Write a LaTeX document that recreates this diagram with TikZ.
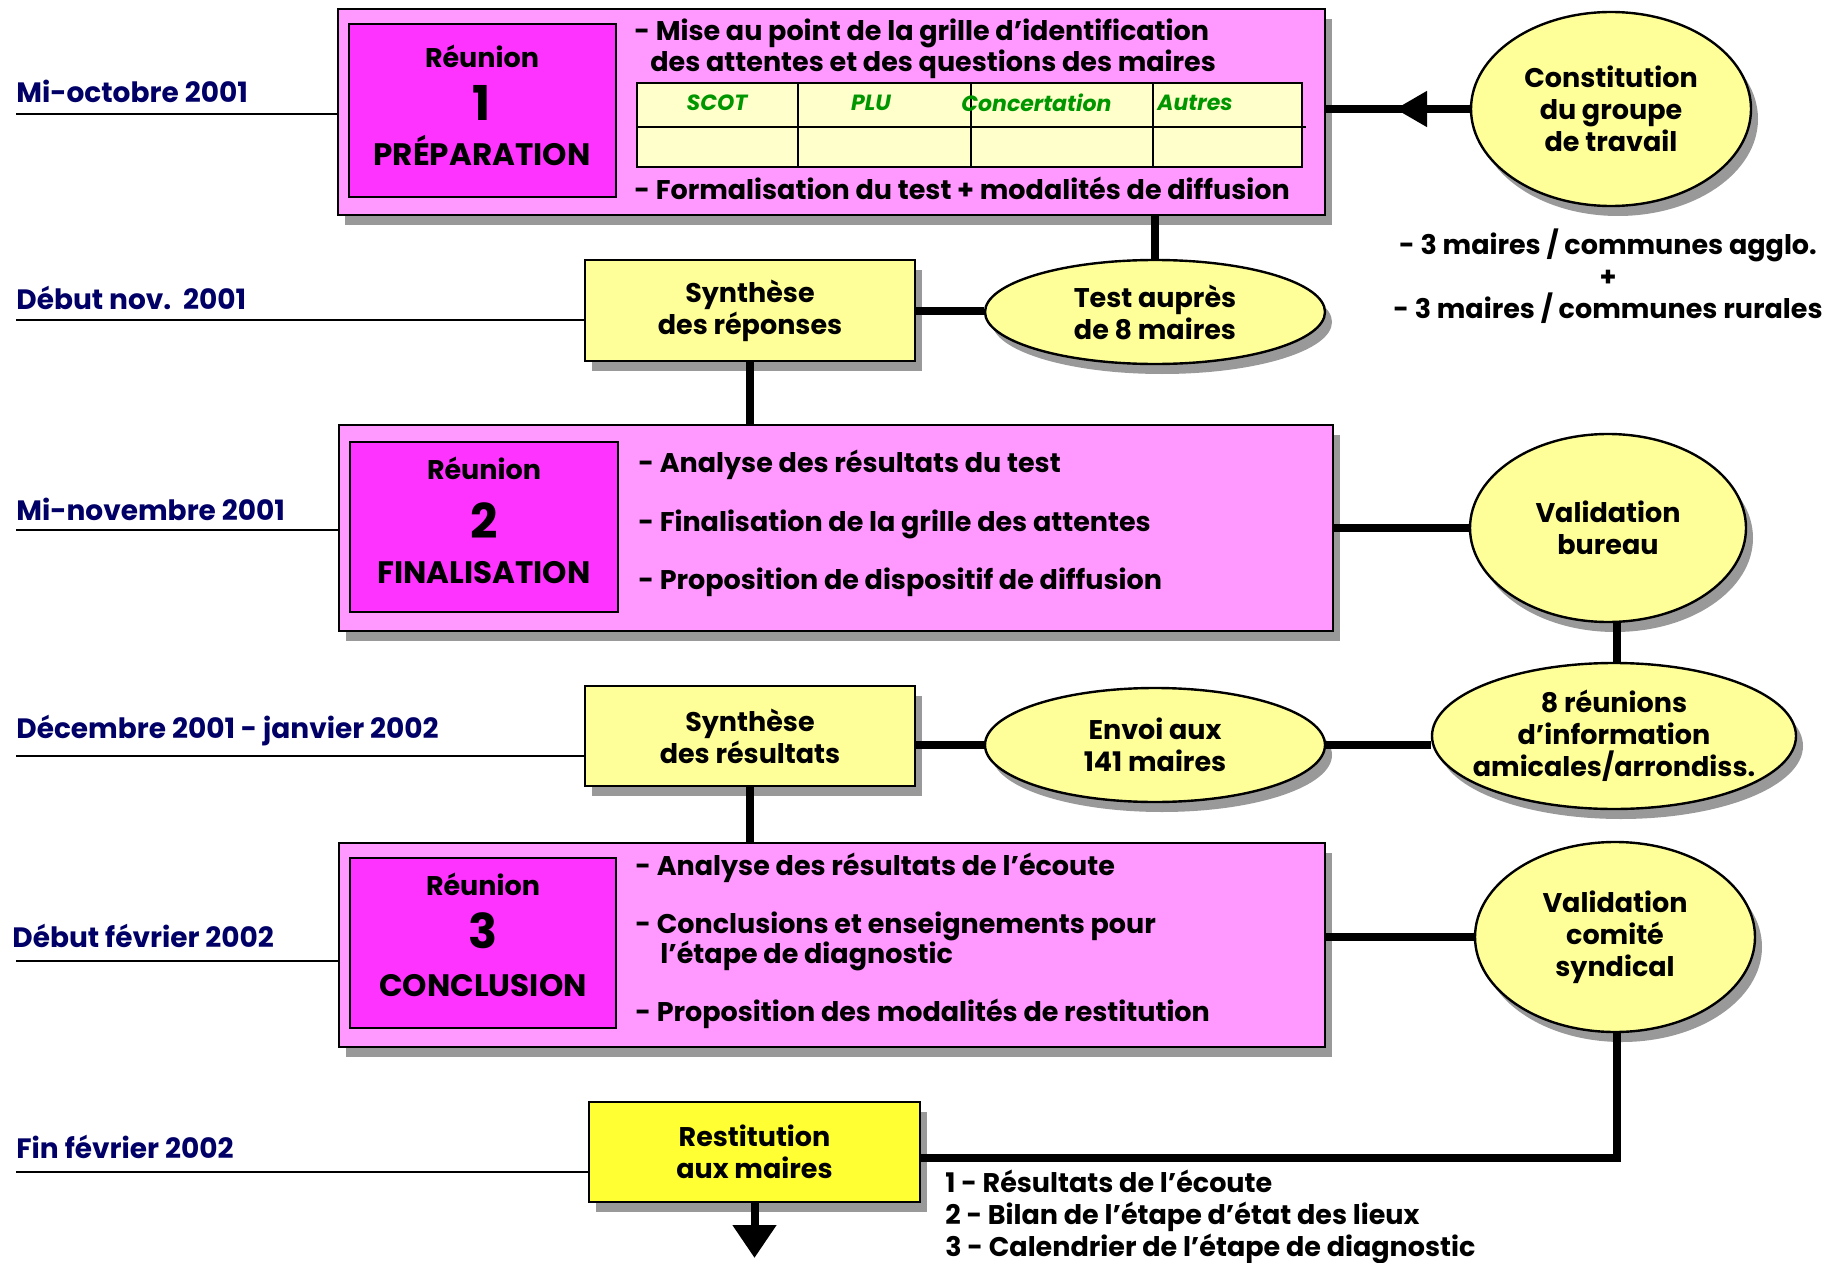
\documentclass[tikz,border=0pt]{standalone}
\usepackage{fontspec}
\setmainfont{Poppins}
\usetikzlibrary{shapes.geometric,shadows,arrows.meta,decorations.markings}

\definecolor{rose}{RGB}{255,153,255}
\definecolor{magentavif}{RGB}{255,51,255}
\definecolor{jaunepale}{RGB}{255,255,153}
\definecolor{jaunevif}{RGB}{255,255,51}
\definecolor{creme}{RGB}{255,255,204}
\definecolor{vertgrille}{RGB}{0,150,0}
\definecolor{marine}{RGB}{0,0,102}
\definecolor{ombre}{RGB}{153,153,153}

\newcommand{\corps}{\fontsize{13.5}{16}\selectfont\bfseries}
\newcommand{\datefont}{\fontsize{14}{16}\selectfont\bfseries}
\newcommand{\numfont}{\fontsize{24}{26}\selectfont\bfseries}
\newcommand{\phasefont}{\fontsize{15.5}{17}\selectfont\bfseries}

\tikzset{
  ombree/.style={drop shadow={shadow xshift=3.5pt,shadow yshift=-5pt,fill=ombre,opacity=1}},
  reunionbox/.style={draw,line width=1.2pt,fill=rose,ombree,inner sep=0pt},
  titrebox/.style={draw,line width=1.2pt,fill=magentavif,inner sep=0pt},
  synthbox/.style={draw,line width=1.2pt,fill=jaunepale,ombree,align=center,font=\corps},
  bulle/.style={ellipse,draw,line width=1.2pt,fill=jaunepale,ombree,align=center,inner sep=0pt,font=\corps},
  lien/.style={draw=black,line width=4pt},
  datelbl/.style={anchor=west,inner sep=0pt,text=marine,font=\datefont},
  trait/.style={draw=black,line width=1pt},
  item/.style={anchor=west,inner sep=0pt,align=left,font=\corps},
  txt/.style={inner sep=0pt,font=\corps},
  grille/.style={inner sep=0pt,text=vertgrille,font=\fontsize{11}{13}\selectfont\bfseries\itshape},
}

\begin{document}
\begin{tikzpicture}[x=0.5pt,y=0.5pt,yscale=-1]
\useasboundingbox (0,0) rectangle (1838,1263);

% boites des reunions
\node[reunionbox,minimum width=493.5pt,minimum height=103pt] (reunion1) at (831.5,112) {};
\node[titrebox,minimum width=133.5pt,minimum height=86.5pt] (titre1) at (482.5,110.5) {};
\node[reunionbox,minimum width=497pt,minimum height=103pt] (reunion2) at (836,528) {};
\node[titrebox,minimum width=134pt,minimum height=85pt] (titre2) at (484,527) {};
\node[reunionbox,minimum width=493pt,minimum height=102pt] (reunion3) at (832,945) {};
\node[titrebox,minimum width=133pt,minimum height=85pt] (titre3) at (483,943) {};

% textes reunion 1
\node[txt] (r1a) at (482,56) {Réunion};
\node[txt,font=\numfont] (r1b) at (482,103) {1};
\node[txt,font=\phasefont] (r1c) at (482,150) {PRÉPARATION};
\node[item] (r1d) at (634,33) {- Mise au point de la grille d’identification};
\node[item] (r1e) at (650,64) {des attentes et des questions des maires};
\node[item] (r1f) at (634,188) {- Formalisation du test + modalités de diffusion};

% grille
\draw[line width=1.2pt,fill=creme] (637,83) rectangle (1302,167);
\draw[line width=1.2pt] (637,127) -- (1306,127);
\foreach \cx in {798,971,1153}
  \draw[line width=1.2pt] (\cx,83) -- (\cx,167);
\node[grille] (g1) at (717,103) {SCOT};
\node[grille] (g2) at (871,103) {PLU};
\node[grille,anchor=west] (g3) at (961,103) {Concertation};
\node[grille,anchor=west] (g4) at (1157,103) {Autres};

% textes reunion 2
\node[txt] (r2a) at (484,468) {Réunion};
\node[txt,font=\numfont] (r2b) at (484,521) {2};
\node[txt,font=\phasefont] (r2c) at (484,573) {FINALISATION};
\node[item] (r2d) at (638,465) {- Analyse des résultats du test};
\node[item] (r2e) at (638,524) {- Finalisation de la grille des attentes};
\node[item] (r2f) at (638,582) {- Proposition de dispositif de diffusion};

% textes reunion 3
\node[txt] (r3a) at (483,884) {Réunion};
\node[txt,font=\numfont] (r3b) at (483,931) {3};
\node[txt,font=\phasefont] (r3c) at (483,986) {CONCLUSION};
\node[item] (r3d) at (635,868) {- Analyse des résultats de l’écoute};
\node[item] (r3e) at (635,926) {- Conclusions et enseignements pour};
\node[item] (r3f) at (660,956) {l’étape de diagnostic};
\node[item] (r3g) at (635,1014) {- Proposition des modalités de restitution};

% syntheses
\node[synthbox,minimum width=165pt,minimum height=50.5pt] (synth1) at (750,310.5) {Synthèse\\des réponses};
\node[synthbox,minimum width=165pt,minimum height=50pt] (synth2) at (750,736) {Synthèse\\des résultats};
\node[synthbox,fill=jaunevif,minimum width=165.5pt,minimum height=50pt] (restit) at (754.5,1152) {Restitution\\aux maires};

% bulles
\node[bulle,minimum width=140pt,minimum height=97pt] (groupe) at (1611,109) {Constitution\\du groupe\\de travail};
\node[bulle,minimum width=170pt,minimum height=52pt] (test) at (1155,312) {Test auprès\\de 8 maires};
\node[bulle,minimum width=138pt,minimum height=94pt] (bureau) at (1608,528) {Validation\\bureau};
\node[bulle,minimum width=170pt,minimum height=57pt] (envoi) at (1155,745) {Envoi aux\\141 maires};
\node[bulle,inner sep=-14pt,minimum width=182pt,minimum height=73pt] (infos) at (1614,736) {8 réunions\\d’information\\amicales/arrondiss.};
\node[bulle,minimum width=140pt,minimum height=95pt] (comite) at (1615,937) {Validation\\comité\\syndical};

\node[txt,align=center] (membres) at (1608,276) {- 3 maires / communes agglo.\\+\\- 3 maires / communes rurales};
\node[txt,align=left,anchor=north west] (contenu) at (945,1170) {1 - Résultats de l’écoute\\2 - Bilan de l’étape d’état des lieux\\3 - Calendrier de l’étape de diagnostic};

% liaisons
\coordinate (coude) at (1617,1158);
\draw[lien,postaction={decorate,decoration={markings,mark=at position 0.52 with {\arrow{Triangle[length=16pt,width=17pt]}}}}]
  (groupe.west) -- (groupe.west -| reunion1.east);
\draw[lien] (reunion1.south -| test.north) -- (test.north);
\draw[lien] (synth1.east) -- (synth1.east -| test.west);
\draw[lien] (synth1.south) -- (synth1.south |- reunion2.north);
\draw[lien] (reunion2.east |- bureau.west) -- (bureau.west);
\draw[lien] (bureau.south -| coude) -- (infos.north -| coude);
\draw[lien] (synth2.east |- envoi.west) -- (envoi.west);
\draw[lien] (envoi.east) -- (envoi.east -| infos.west);
\draw[lien] (synth2.south) -- (synth2.south |- reunion3.north);
\draw[lien] (reunion3.east |- comite.west) -- (comite.west);
\draw[lien] (restit.east |- coude) -- (coude) -- (comite.south -| coude);
\coordinate (fin) at (754.5,1258);
\draw[lien,-{Triangle[length=16.5pt,width=21pt]}] (restit.south) -- (fin);

% dates
\coordinate (d1) at (16,114);
\coordinate (d2) at (16,320);
\coordinate (d3) at (16,530);
\coordinate (d4) at (16,756);
\coordinate (d5) at (16,961);
\coordinate (d6) at (16,1172);
\draw[trait] (d1) -- (d1 -| reunion1.west);
\draw[trait] (d2) -- (d2 -| synth1.west);
\draw[trait] (d3) -- (d3 -| reunion2.west);
\draw[trait] (d4) -- (d4 -| synth2.west);
\draw[trait] (d5) -- (d5 -| reunion3.west);
\draw[trait] (d6) -- (d6 -| restit.west);
\node[datelbl] (t1) at (16,91) {Mi-octobre 2001};
\node[datelbl] (t2) at (16,298) {Début nov.\ \ 2001};
\node[datelbl] (t3) at (16,509) {Mi-novembre 2001};
\node[datelbl] (t4) at (16,731) {Décembre 2001 - janvier 2002};
\node[datelbl] (t5) at (12,936) {Début février 2002};
\node[datelbl] (t6) at (16,1147) {Fin février 2002};
\end{tikzpicture}
\end{document}
